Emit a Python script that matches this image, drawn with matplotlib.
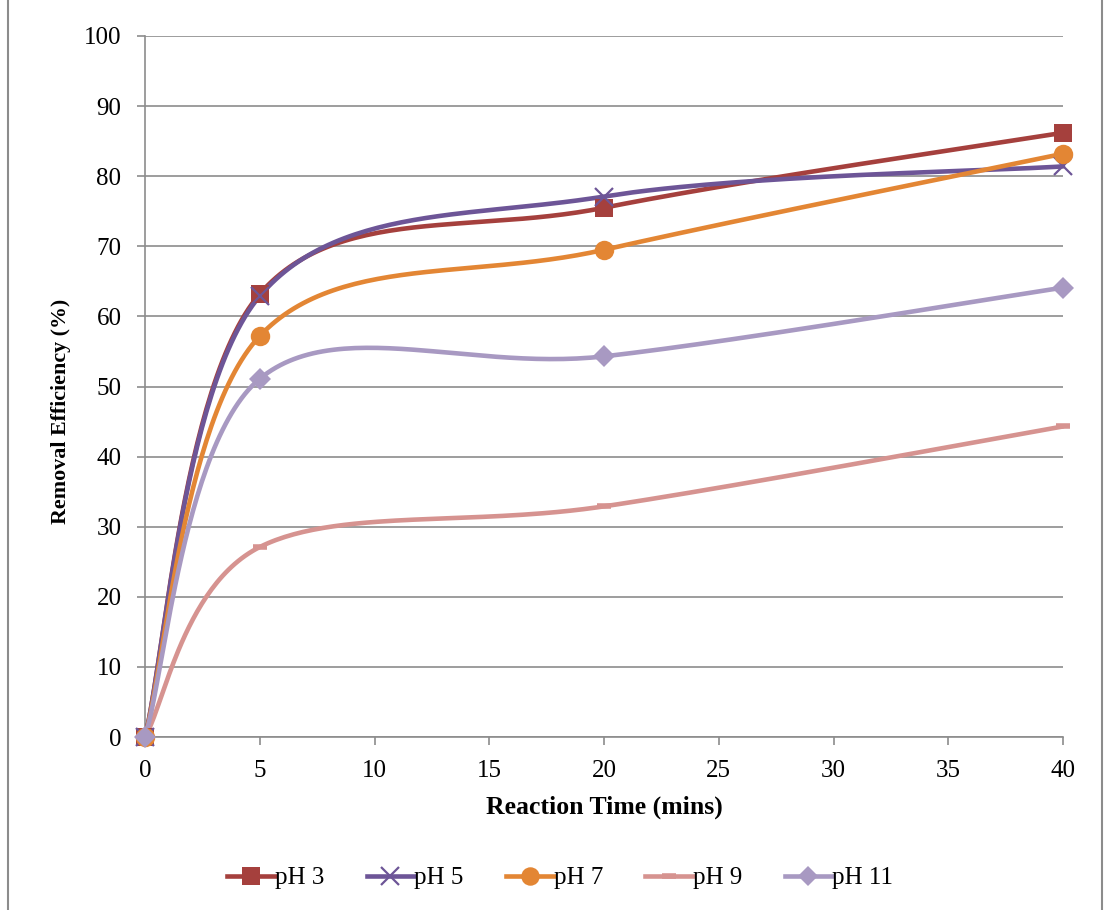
import numpy as np
import matplotlib
matplotlib.use("Agg")
import matplotlib.pyplot as plt
from matplotlib.lines import Line2D

# ---- data ----
time_min = [0, 5, 20, 40]
series_names = ["pH 3", "pH 5", "pH 7", "pH 9", "pH 11"]
ph3 = [0.0, 63.2, 75.5, 86.2]
ph5 = [0.0, 62.9, 77.1, 81.4]
ph7 = [0.0, 57.2, 69.5, 83.2]
ph9 = [0.0, 27.1, 32.9, 44.3]
ph11 = [0.0, 51.1, 54.3, 64.1]
x_ticks = [0, 5, 10, 15, 20, 25, 30, 35, 40]
y_ticks = [0, 10, 20, 30, 40, 50, 60, 70, 80, 90, 100]

colors = ["#A5403D", "#6D5597", "#E38634", "#D69390", "#A899C2"]
markers = ["s", "x", "o", "_", "D"]
msizes = [13, 13, 14, 10, 11]

plt.rcParams["font.family"] = ["Liberation Serif", "DejaVu Serif"]


def smooth(xs, ys, n=60):
    """Excel-like smoothed line (Catmull-Rom Bezier)."""
    P = np.column_stack([xs, ys]).astype(float)
    out = []
    m = len(P)
    for i in range(m - 1):
        p0 = P[i - 1] if i > 0 else P[i]
        p1 = P[i]
        p2 = P[i + 1]
        p3 = P[i + 2] if i + 2 < m else P[i + 1]
        c1 = p1 + (p2 - p0) / 6.0
        c2 = p2 - (p3 - p1) / 6.0
        t = np.linspace(0, 1, n)[:, None]
        b = ((1 - t) ** 3) * p1 + 3 * ((1 - t) ** 2) * t * c1 + 3 * (1 - t) * t ** 2 * c2 + t ** 3 * p2
        out.append(b if i == 0 else b[1:])
    arr = np.vstack(out)
    return arr[:, 0], arr[:, 1]


fig = plt.figure(figsize=(11.05, 9.10), dpi=100)
ax = fig.add_axes([145 / 1105, 1 - 737 / 910, (1063 - 145) / 1105, (737 - 36) / 910])

all_series = [ph3, ph5, ph7, ph9, ph11]
handles = []
for k, (name, ys) in enumerate(zip(series_names, all_series)):
    sx, sy = smooth(time_min, ys)
    ax.plot(sx, sy, color=colors[k], lw=3.3, solid_capstyle="round", zorder=3 + k * 0.1, clip_on=False)
    mew = 1.6 if markers[k] == "x" else (4 if markers[k] == "_" else 0)
    ax.plot(time_min, ys, linestyle="none", marker=markers[k], markersize=msizes[k],
            color=colors[k], markeredgecolor=colors[k], markeredgewidth=mew,
            zorder=4 + k * 0.1, clip_on=False)
    handles.append(Line2D([0], [0], color=colors[k], lw=3.3, marker=markers[k],
                          markersize=msizes[k] * 0.95, markeredgewidth=mew,
                          markeredgecolor=colors[k], label=name))

ax.set_xlim(0, 40)
ax.set_ylim(0, 100)
ax.set_xticks(x_ticks)
ax.set_yticks(y_ticks)
ax.set_xticklabels([str(v) for v in x_ticks], fontsize=18)
ax.set_yticklabels([str(v) for v in y_ticks], fontsize=18)
ax.yaxis.grid(True, color="#8C8C8C", lw=1.2)
ax.set_axisbelow(True)
for s in ["top", "right"]:
    ax.spines[s].set_visible(False)
for s in ["left", "bottom"]:
    ax.spines[s].set_color("#8C8C8C")
    ax.spines[s].set_linewidth(1.2)
ax.tick_params(axis="x", direction="out", length=5.5, width=1.2, color="#8C8C8C", pad=11)
ax.tick_params(axis="y", direction="out", length=6, width=1.2, color="#8C8C8C", pad=11)

ax.set_xlabel("Reaction Time (mins)", fontsize=18.5, fontweight="bold", labelpad=10)
ax.set_ylabel("Removal Efficiency (%)", fontsize=15.8, fontweight="bold")
ax.yaxis.set_label_coords(-0.081, 0.465)

fig.legend(handles=handles, loc="center", bbox_to_anchor=(0.507, 1 - 878 / 910), ncol=5,
           frameon=False, fontsize=18, handlelength=1.9, handletextpad=0.0, columnspacing=1.7)

# chart border
fig.add_artist(Line2D([8 / 1105, 8 / 1105], [0, 1], color="#8C8C8C", lw=1.5, transform=fig.transFigure))
fig.add_artist(Line2D([1102 / 1105, 1102 / 1105], [0, 1], color="#8C8C8C", lw=1.5, transform=fig.transFigure))

fig.savefig("out.png", dpi=100)
